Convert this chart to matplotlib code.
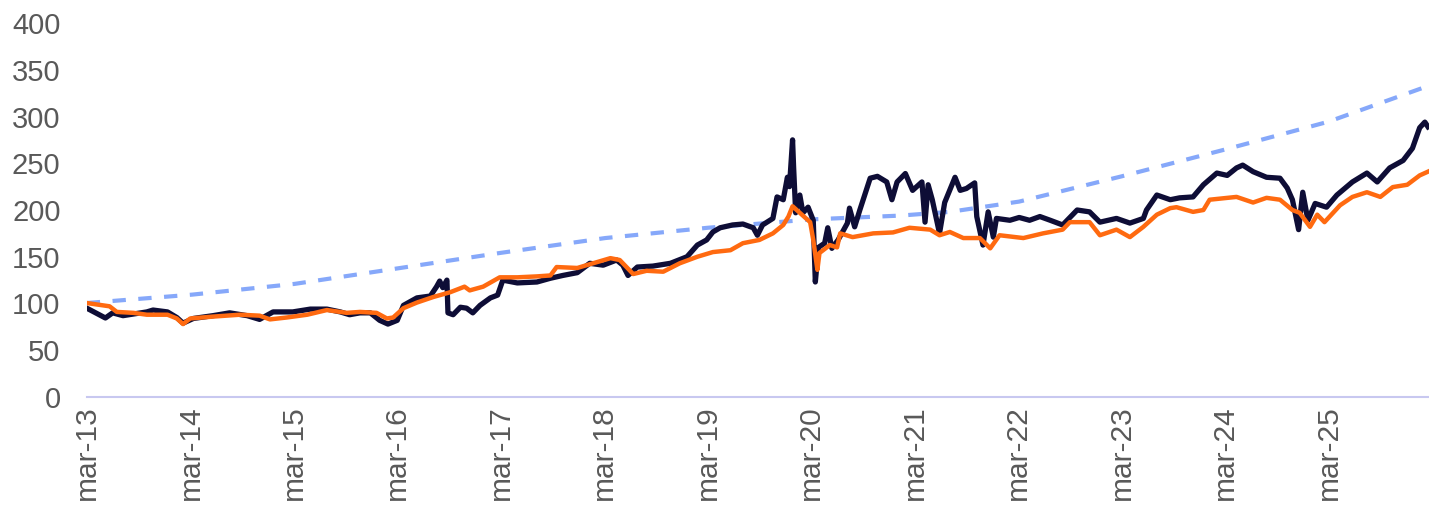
import matplotlib
matplotlib.use('Agg')
import matplotlib.pyplot as plt
import numpy as np

plt.rcParams['font.family'] = ['Liberation Sans', 'DejaVu Sans']

# x values are decimal years (mar-13 = 2013.16)
navy_x = [2013.16, 2013.34, 2013.41, 2013.51, 2013.74, 2013.80, 2013.94, 2014.03, 2014.09, 2014.19,
          2014.38, 2014.54, 2014.71, 2014.83, 2014.96, 2015.15, 2015.32, 2015.48, 2015.61, 2015.70,
          2015.80, 2015.90, 2015.99, 2016.07, 2016.16, 2016.22, 2016.35, 2016.48, 2016.54, 2016.57,
          2016.60, 2016.64, 2016.65, 2016.70, 2016.77, 2016.83, 2016.89, 2016.96, 2017.06, 2017.13,
          2017.18, 2017.32, 2017.51, 2017.64, 2017.76, 2017.90, 2018.02, 2018.15, 2018.28, 2018.34,
          2018.39, 2018.48, 2018.63, 2018.80, 2018.96, 2019.06, 2019.15, 2019.21, 2019.28, 2019.40,
          2019.50, 2019.60, 2019.64, 2019.69, 2019.79, 2019.83, 2019.89, 2019.93, 2019.95, 2019.98,
          2019.99, 2020.01, 2020.05, 2020.08, 2020.13, 2020.18, 2020.20, 2020.23, 2020.29, 2020.32,
          2020.36, 2020.42, 2020.51, 2020.53, 2020.58, 2020.63, 2020.73, 2020.80, 2020.89, 2020.94,
          2020.99, 2021.07, 2021.14, 2021.23, 2021.26, 2021.29, 2021.33, 2021.40, 2021.45, 2021.55,
          2021.60, 2021.66, 2021.74, 2021.76, 2021.82, 2021.87, 2021.92, 2021.95, 2022.08, 2022.17,
          2022.27, 2022.37, 2022.47, 2022.59, 2022.73, 2022.85, 2022.95, 2023.11, 2023.24, 2023.37,
          2023.40, 2023.50, 2023.63, 2023.72, 2023.85, 2023.95, 2024.08, 2024.18, 2024.27, 2024.33,
          2024.43, 2024.56, 2024.69, 2024.76, 2024.81, 2024.87, 2024.91, 2024.96, 2025.03, 2025.14,
          2025.24, 2025.39, 2025.53, 2025.63, 2025.75, 2025.88, 2025.97, 2026.04, 2026.09, 2026.12]
navy_y = [95, 84.5, 90, 87, 91, 93, 91, 85, 79, 84,
          87, 90, 87, 83, 91, 91, 94, 94, 91, 88,
          90, 90, 82, 78, 82, 98, 106, 108, 118, 124,
          117, 125, 90, 88, 96, 95, 90, 98, 106, 109,
          125, 122, 123, 127, 130, 133, 143, 141, 146.5, 141,
          130, 139, 140, 143, 150, 162.5, 168, 176.5, 181, 184,
          185, 181, 173, 184, 191, 214, 211, 235, 225, 275,
          246, 197, 216, 197, 203, 189, 123, 160, 164.5, 181,
          159, 168, 186, 202, 182, 200, 234, 236, 230, 211,
          230, 239, 221, 230, 187, 227, 211, 175, 208, 235,
          221, 223, 229, 193, 162.5, 198, 171, 191, 189, 192,
          189, 193, 189, 184, 200, 198, 187, 191, 186, 191,
          200, 216, 211, 213, 214, 227, 239.5, 237, 245, 248,
          241, 235, 234, 223.5, 211, 179, 219, 189, 207, 203,
          216, 230, 239.5, 230, 245, 253, 266, 288, 294, 289]

orange_x = [2013.16, 2013.38, 2013.45, 2013.61, 2013.74, 2013.94, 2014.03, 2014.09, 2014.16, 2014.38,
            2014.64, 2014.83, 2014.93, 2015.09, 2015.29, 2015.48, 2015.67, 2015.80, 2015.96, 2016.06,
            2016.12, 2016.22, 2016.35, 2016.51, 2016.67, 2016.81, 2016.86, 2016.99, 2017.15, 2017.32,
            2017.51, 2017.64, 2017.70, 2017.90, 2017.99, 2018.22, 2018.31, 2018.44, 2018.57, 2018.73,
            2018.89, 2019.06, 2019.21, 2019.38, 2019.50, 2019.66, 2019.79, 2019.89, 2019.94, 2019.98,
            2020.05, 2020.15, 2020.18, 2020.22, 2020.24, 2020.34, 2020.41, 2020.44, 2020.56, 2020.76,
            2020.95, 2021.11, 2021.31, 2021.40, 2021.50, 2021.63, 2021.79, 2021.89, 2021.98, 2022.21,
            2022.40, 2022.59, 2022.66, 2022.85, 2022.95, 2023.11, 2023.24, 2023.37, 2023.50, 2023.63,
            2023.69, 2023.85, 2023.95, 2024.01, 2024.27, 2024.43, 2024.56, 2024.69, 2024.81, 2024.88,
            2024.98, 2025.05, 2025.12, 2025.27, 2025.39, 2025.53, 2025.66, 2025.78, 2025.92, 2026.04,
            2026.12]
orange_y = [100.5, 97, 91, 90, 88, 88, 84, 78, 84, 86,
            88, 87, 83, 85, 88, 93, 90, 91, 90, 84,
            85, 95, 101, 107, 112, 118, 114, 118, 128, 128,
            129, 130, 139, 138, 141, 148.5, 146.5, 131.5, 135, 134,
            143, 150, 155, 157, 164.5, 168, 175, 184, 193, 204,
            197, 187, 168, 136, 154, 162.5, 160, 175, 171, 175,
            176, 181, 179, 173, 176.5, 170, 170, 159, 173, 170,
            175, 179, 187, 187, 173, 179, 171, 182, 195, 202,
            203, 198, 200, 211, 214, 208, 213, 211, 200, 197,
            182, 195, 187, 205, 214, 219, 214, 224.5, 227, 237,
            241]

target_x = [2013.16, 2014.18, 2015.17, 2016.19, 2017.15, 2018.17, 2019.16, 2020.17, 2021.02, 2021.50,
            2022.17, 2023.16, 2024.17, 2025.16, 2026.13]
target_y = [100.5, 109.5, 121, 138, 154, 170, 181, 190, 194, 198,
            209, 236, 265, 294.5, 333]

tick_years = list(range(2013, 2026))
tick_labels = ['mar-%02d' % (y % 100) for y in tick_years]

fig = plt.figure(figsize=(14.29, 5.08), dpi=100)
ax = fig.add_axes([87 / 1429, 1 - 397 / 508, (1429 - 87) / 1429, (397 - 23) / 508])

ax.plot(target_x, target_y, color='#86a8fa', lw=3.0, dashes=(3.2, 3.0), zorder=2)
ax.plot(navy_x, navy_y, color='#0e0d36', lw=3.8, zorder=2.5)
ax.plot(orange_x, orange_y, color='#ff6a10', lw=3.2, zorder=3)

ax.set_xlim(2013.162, 2026.13)
ax.set_ylim(0, 400)
ax.set_yticks(np.arange(0, 401, 50))
ax.set_xticks([y + 0.162 for y in tick_years])
ax.set_xticklabels(tick_labels, rotation=90)

for s in ['top', 'left', 'right']:
    ax.spines[s].set_visible(False)
ax.spines['bottom'].set_color('#c8c8f0')
ax.spines['bottom'].set_linewidth(1.5)

ax.tick_params(axis='y', length=0, pad=19, labelsize=21, labelcolor='#595959')
ax.tick_params(axis='x', length=0, pad=6, labelsize=21.5, labelcolor='#595959')

fig.savefig('out.png', dpi=100)
